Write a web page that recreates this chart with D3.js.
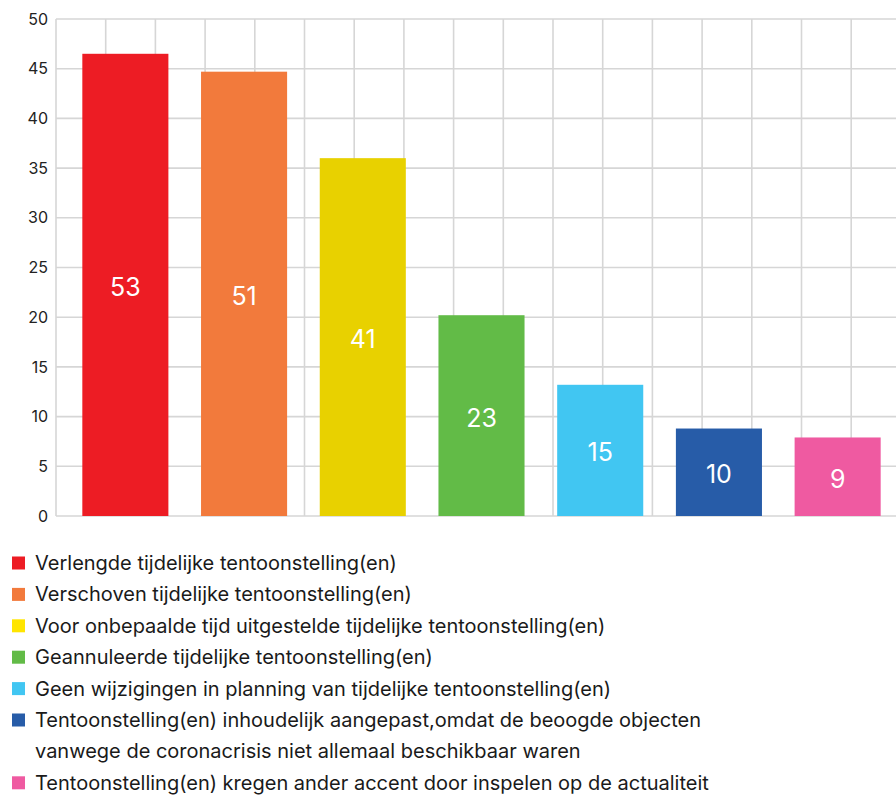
<!DOCTYPE html>
<html>
<head>
<meta charset="utf-8">
<script src="https://cdn.jsdelivr.net/npm/d3@7"></script>
<style>
  html, body { margin: 0; padding: 0; background: #fff; }
  svg { display: block; font-family: Inter, "Noto Sans", sans-serif; }
</style>
</head>
<body>
<div id="chart"></div>
<script>
const categories = ['verlengd', 'verschoven', 'uitgesteld', 'geannuleerd', 'geen', 'aangepast', 'accent'];
const percentages = [46.5, 44.7, 36.0, 20.2, 13.2, 8.8, 7.9];
const counts = [53, 51, 41, 23, 15, 10, 9];
const barColors = ['#ed1c24', '#f27a3c', '#e8d100', '#62bb47', '#41c6f2', '#275ca8', '#ef5aa1'];
const legendColors = ['#ed1c24', '#f27a3c', '#ffe500', '#62bb47', '#41c6f2', '#275ca8', '#ef5aa1'];
const legendLabels = [
  ['Verlengde tijdelijke tentoonstelling(en)'],
  ['Verschoven tijdelijke tentoonstelling(en)'],
  ['Voor onbepaalde tijd uitgestelde tijdelijke tentoonstelling(en)'],
  ['Geannuleerde tijdelijke tentoonstelling(en)'],
  ['Geen wijzigingen in planning van tijdelijke tentoonstelling(en)'],
  ['Tentoonstelling(en) inhoudelijk aangepast,omdat de beoogde objecten',
   'vanwege de coronacrisis niet allemaal beschikbaar waren'],
  ['Tentoonstelling(en) kregen ander accent door inspelen op de actualiteit']
];
const yTicks = [0, 5, 10, 15, 20, 25, 30, 35, 40, 45, 50];

const width = 896, height = 796;
const margin = { top: 19, left: 56, bottom: 280 };
const plotBottom = height - margin.bottom;

const svg = d3.select('#chart').append('svg')
  .attr('width', width)
  .attr('height', height);

const y = d3.scaleLinear().domain([0, 50]).range([plotBottom, margin.top]);
const x = d3.scaleBand().domain(categories).range([66, 897])
  .paddingInner(0.275).paddingOuter(0.1375);

// square grid: vertical lines at same spacing as the y ticks
const cell = y(0) - y(5);
const vLines = d3.range(margin.left, width + cell, cell);

const grid = svg.append('g').attr('stroke', '#d6d6d6').attr('stroke-width', 1.6);
grid.selectAll('line.h').data(yTicks).join('line')
  .attr('class', 'h')
  .attr('x1', margin.left).attr('x2', width)
  .attr('y1', d => y(d)).attr('y2', d => y(d));
grid.selectAll('line.v').data(vLines).join('line')
  .attr('class', 'v')
  .attr('x1', d => d).attr('x2', d => d)
  .attr('y1', y(50)).attr('y2', y(0));

// y axis labels
const yAxis = d3.axisLeft(y).tickValues(yTicks).tickSize(0).tickPadding(8);
svg.append('g')
  .attr('transform', 'translate(' + margin.left + ',0)')
  .call(yAxis)
  .call(g => g.select('.domain').remove())
  .selectAll('text')
  .attr('font-size', 16)
  .attr('font-family', 'Inter, "Noto Sans", sans-serif')
  .attr('fill', '#222');

// bars
svg.append('g').selectAll('rect').data(categories).join('rect')
  .attr('x', d => x(d))
  .attr('width', x.bandwidth())
  .attr('y', (d, i) => y(percentages[i]))
  .attr('height', (d, i) => y(0) - y(percentages[i]))
  .attr('fill', (d, i) => barColors[i]);

// count labels centred in bars
svg.append('g').selectAll('text').data(categories).join('text')
  .attr('x', d => x(d) + x.bandwidth() / 2)
  .attr('y', (d, i) => (y(percentages[i]) + y(0)) / 2 + 2)
  .attr('text-anchor', 'middle')
  .attr('dominant-baseline', 'central')
  .attr('font-size', 25)
  .attr('fill', '#fff')
  .text((d, i) => counts[i]);

// legend
const rowH = 31.4;
let row = 0;
const legend = svg.append('g').attr('transform', 'translate(0,563)');
legendLabels.forEach((lines, i) => {
  legend.append('rect')
    .attr('x', 12).attr('y', row * rowH - 6.5)
    .attr('width', 13).attr('height', 13)
    .attr('fill', legendColors[i]);
  lines.forEach(line => {
    legend.append('text')
      .attr('x', 35).attr('y', row * rowH)
      .attr('dominant-baseline', 'central')
      .attr('font-size', 20)
      .attr('fill', '#1a1a1a')
      .text(line);
    row++;
  });
});
</script>
</body>
</html>
